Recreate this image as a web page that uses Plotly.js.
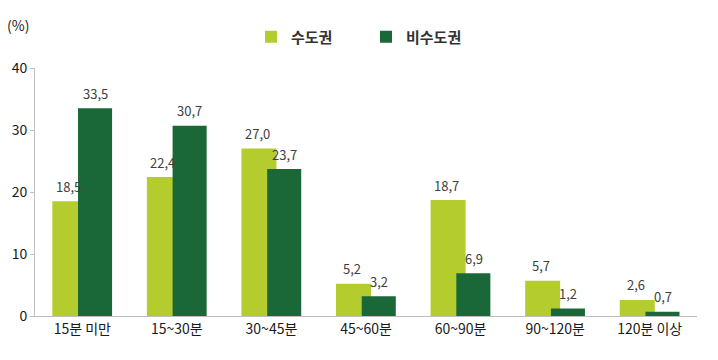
<!DOCTYPE html>
<html>
<head>
<meta charset="utf-8">
<script src="https://cdn.plot.ly/plotly-3.0.1.min.js"></script>
<style>html,body{margin:0;padding:0;background:#fff;}#chart{width:718px;height:360px;}</style>
</head>
<body>
<div id="chart"></div>
<script>
const categories = ["15분 미만", "15~30분", "30~45분", "45~60분", "60~90분", "90~120분", "120분 이상"];
const capital = [18.5, 22.4, 27.0, 5.2, 18.7, 5.7, 2.6];
const nonCapital = [33.5, 30.7, 23.7, 3.2, 6.9, 1.2, 0.7];
const seriesNames = ["수도권", "비수도권"];
const yTicks = [0, 10, 20, 30, 40];

const lightGreen = "#b5cc2e";
const darkGreen = "#1a6838";
const font = "'Noto Sans CJK KR', 'Noto Sans', sans-serif";

const fmt = v => v.toFixed(1).replace(".", ",");

const traces = [
  {type: "bar", name: seriesNames[0], x: categories, y: capital, marker: {color: lightGreen},
   width: 0.37, offset: -0.317, hoverinfo: "skip"},
  {type: "bar", name: seriesNames[1], x: categories, y: nonCapital, marker: {color: darkGreen},
   width: 0.36, offset: -0.045, hoverinfo: "skip"}
];

const annotations = [];
categories.forEach((c, i) => {
  annotations.push({x: c, y: capital[i], xref: "x", yref: "y", text: fmt(capital[i]), showarrow: false,
    xshift: -14, yshift: 15, font: {family: font, size: 13, color: "#404040"}});
  annotations.push({x: c, y: nonCapital[i], xref: "x", yref: "y", text: fmt(nonCapital[i]), showarrow: false,
    xshift: 13, yshift: 15, font: {family: font, size: 13, color: "#404040"}});
});
annotations.push({xref: "paper", yref: "paper", x: -0.045, y: 1.0, xanchor: "left", yanchor: "bottom",
  text: "(%)", showarrow: false, font: {family: font, size: 14, color: "#222"}, yshift: 31});

const layout = {
  width: 718, height: 360,
  margin: {l: 35, r: 21, t: 68, b: 44, autoexpand: false},
  paper_bgcolor: "#fff", plot_bgcolor: "#fff",
  barmode: "overlay",
  showlegend: true,
  legend: {orientation: "h", x: 0.5, xanchor: "center", y: 1.125, yanchor: "middle",
    font: {family: font, size: 15, color: "#333", weight: "bold"}, entrywidth: 70,
    itemclick: false, itemdoubleclick: false},
  font: {family: font, color: "#222"},
  xaxis: {type: "category", showgrid: false, zeroline: false, showline: true, linecolor: "#c0c0c0", linewidth: 1,
    ticks: "", tickfont: {family: font, size: 14, color: "#1a1a1a"}, fixedrange: true},
  yaxis: {range: [0, 40], tickvals: yTicks, showgrid: false, zeroline: false, showline: true, linecolor: "#c0c0c0",
    linewidth: 1, ticks: "outside", ticklen: 4, tickcolor: "#c0c0c0",
    tickfont: {family: font, size: 14, color: "#1a1a1a"}, fixedrange: true},
  annotations: annotations
};

Plotly.newPlot("chart", traces, layout, {displayModeBar: false, staticPlot: true});
</script>
</body>
</html>
